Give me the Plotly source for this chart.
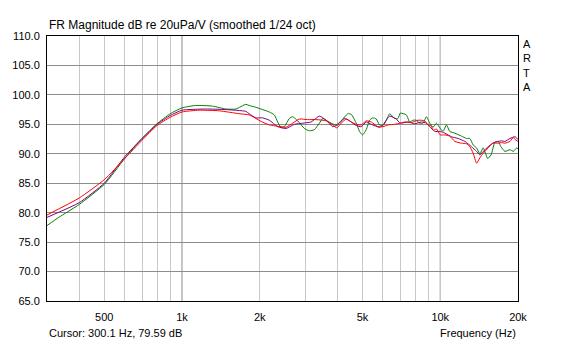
import plotly.graph_objects as go

# Frequency response, three measurements (1/24 octave smoothing)
freq_red = [300, 400, 500, 600, 700, 800, 900, 1000, 1164, 1392, 1665, 1820, 2021, 2177,
            2417, 2527, 2682, 2847, 3067, 3306, 3614, 3835, 3975, 4134, 4323, 4522, 4727,
            4943, 5169, 5406, 5734, 6000, 6271, 6657, 7000, 7281, 7727, 8199, 8707, 8968,
            9243, 9376, 9666, 10000, 10410, 10887, 11386, 12076, 12642, 13020, 13409,
            13823, 14237, 14661, 15329, 15978, 16770, 17237, 17800, 18621, 19179, 19500,
            20000]
db_red = [79.6, 82.5, 85.6, 89.2, 92.3, 94.8, 96.2, 97.1, 97.4, 97.3, 96.8, 96.6, 95.5, 94.9,
          94.6, 94.5, 95.2, 95.9, 95.8, 95.8, 95.6, 94.9, 94.4, 95.2, 95.9, 95.4, 95.0,
          94.9, 95.6, 95.4, 94.6, 94.6, 94.9, 95.0, 95.2, 95.4, 95.3, 95.7, 95.6, 94.9,
          94.7, 94.0, 94.2, 93.2, 93.2, 93.0, 92.1, 91.8, 91.7, 91.2, 90.1,
          88.4, 89.3, 90.1, 91.0, 91.8, 91.8, 91.9, 91.8, 92.1, 92.8, 92.4,
          92.1]

freq_purple = [300, 400, 500, 600, 700, 800, 900, 1000, 1236, 1478, 1767, 1820, 1932, 2051,
               2177, 2346, 2527, 2722, 2933, 3161, 3404, 3614, 3835, 4000, 4257, 4453, 4727,
               4943, 5169, 5406, 5821, 6000, 6367, 6759, 7000, 7504, 7961, 8446, 8840, 9106,
               9518, 10000, 10410, 11049, 11728, 12455, 13217, 13823, 14237, 14661, 15329,
               15978, 16770, 17237, 17800, 18621, 19500, 20000]
db_purple = [79.2, 81.7, 85.0, 89.5, 92.6, 95.0, 96.5, 97.4, 97.6, 97.5, 97.2, 96.8, 96.1, 96.1,
             95.7, 94.6, 94.3, 95.0, 95.2, 95.4, 96.4, 95.7, 94.6, 94.9, 96.0, 95.6, 94.8,
             94.6, 95.4, 95.0, 94.5, 94.9, 96.4, 95.9, 95.2, 95.4, 95.1, 95.4, 95.2, 94.6,
             93.8, 93.8, 93.5, 92.9, 92.6, 92.1, 91.2, 90.4, 89.8, 90.4, 91.2,
             91.8, 92.1, 92.2, 92.1, 92.6, 92.9, 92.4]

freq_green = [300, 333, 400, 500, 600, 700, 800, 900, 1000, 1130, 1311, 1478, 1616, 1767,
              1820, 1932, 2021, 2177, 2277, 2346, 2417, 2489, 2604, 2682, 2804, 2978, 3113,
              3256, 3404, 3507, 3614, 3780, 3953, 4134, 4385, 4522, 4727, 4868, 5000, 5169,
              5324, 5483, 5651, 5821, 6000, 6182, 6367, 6657, 6857, 7000, 7392, 7613, 7842,
              8077, 8325, 8575, 8840, 9106, 9376, 9666, 10000, 10254, 10570, 10887, 11386,
              12076, 12642, 13020, 13409, 13823, 14237, 14661, 15264, 15728, 16290, 16770,
              17180, 17800, 18621, 19179, 19767, 20000]
db_green = [77.8, 79.2, 81.4, 84.8, 89.2, 92.6, 95.1, 96.8, 97.8, 98.2, 98.1, 97.6, 97.6, 98.4,
            98.2, 97.9, 97.6, 97.1, 96.6, 95.4, 94.5, 94.6, 96.0, 96.3, 95.6, 94.3, 93.9,
            94.1, 95.2, 96.0, 95.7, 95.2, 94.9, 95.6, 96.8, 96.7, 95.2, 93.8, 93.2, 94.1,
            95.7, 96.1, 95.9, 94.9, 94.8, 95.7, 96.8, 96.0, 96.0, 96.9, 96.6, 95.4, 95.7,
            95.7, 95.2, 95.2, 96.3, 95.2, 94.5, 95.2, 94.3, 93.8, 94.9, 93.8, 93.5,
            93.0, 92.6, 92.6, 91.5, 91.0, 90.0, 91.0, 89.2, 89.8, 92.0, 92.1,
            91.2, 90.4, 90.7, 90.4, 91.0, 90.8]

x_grid = [400, 500, 600, 700, 800, 900, 1000, 2000, 3000, 4000, 5000, 6000, 7000, 8000,
          9000, 10000, 20000]
x_labels = ["", "500", "", "", "", "", "1k", "2k", "", "", "5k", "", "", "", "", "10k", "20k"]
x_decades = [1000, 10000]
y_ticks = [65, 70, 75, 80, 85, 90, 95, 100, 105, 110]

FONT = "Liberation Sans, Arial, sans-serif"

fig = go.Figure()
for f, d, c in [(freq_green, db_green, "#008000"),
                (freq_purple, db_purple, "#800080"),
                (freq_red, db_red, "#ff0000")]:
    fig.add_trace(go.Scatter(x=f, y=d, mode="lines",
                             line=dict(color=c, width=1, shape="spline", smoothing=0.5),
                             showlegend=False, hoverinfo="skip"))

# darker grid lines at the decades
for fx in x_decades:
    fig.add_shape(type="line", xref="x", yref="paper", x0=fx, x1=fx, y0=0, y1=1,
                  line=dict(color="#808080", width=1), layer="below")

fig.update_layout(
    width=566, height=344,
    margin=dict(l=47, r=48, t=36, b=43),
    paper_bgcolor="white", plot_bgcolor="white",
    font=dict(family=FONT, size=11, color="black"),
    xaxis=dict(type="log", range=[2.4771, 4.30103], tickvals=x_grid, ticktext=x_labels,
               showgrid=True, gridcolor="#c8c8c8", gridwidth=1, zeroline=False,
               showline=True, linecolor="black", linewidth=1, mirror=True,
               ticks="", ticklabelstandoff=6, tickfont=dict(size=11)),
    yaxis=dict(range=[65, 110], tickvals=y_ticks, tickformat=".1f",
               showgrid=True, gridcolor="#8c8c8c", gridwidth=1, zeroline=False,
               showline=True, linecolor="black", linewidth=1, mirror=True,
               ticks="", ticklabelstandoff=4, tickfont=dict(size=11)),
    annotations=[
        dict(text="FR Magnitude dB re 20uPa/V (smoothed 1/24 oct)", xref="paper", yref="paper",
             x=0, y=1, xanchor="left", yanchor="bottom", yshift=2, showarrow=False,
             font=dict(size=12)),
        dict(text="A<br>R<br>T<br>A", xref="paper", yref="paper", x=1, y=1,
             xanchor="left", yanchor="top", xshift=3, yshift=0, showarrow=False,
             align="left", font=dict(size=11)),
        dict(text="Cursor: 300.1 Hz, 79.59 dB", xref="paper", yref="paper", x=0, y=0,
             xanchor="left", yanchor="top", yshift=-24, showarrow=False, font=dict(size=11)),
        dict(text="Frequency (Hz)", xref="paper", yref="paper", x=1, y=0,
             xanchor="right", yanchor="top", yshift=-24, showarrow=False, font=dict(size=11)),
    ],
)

fig.write_html("out.html")
